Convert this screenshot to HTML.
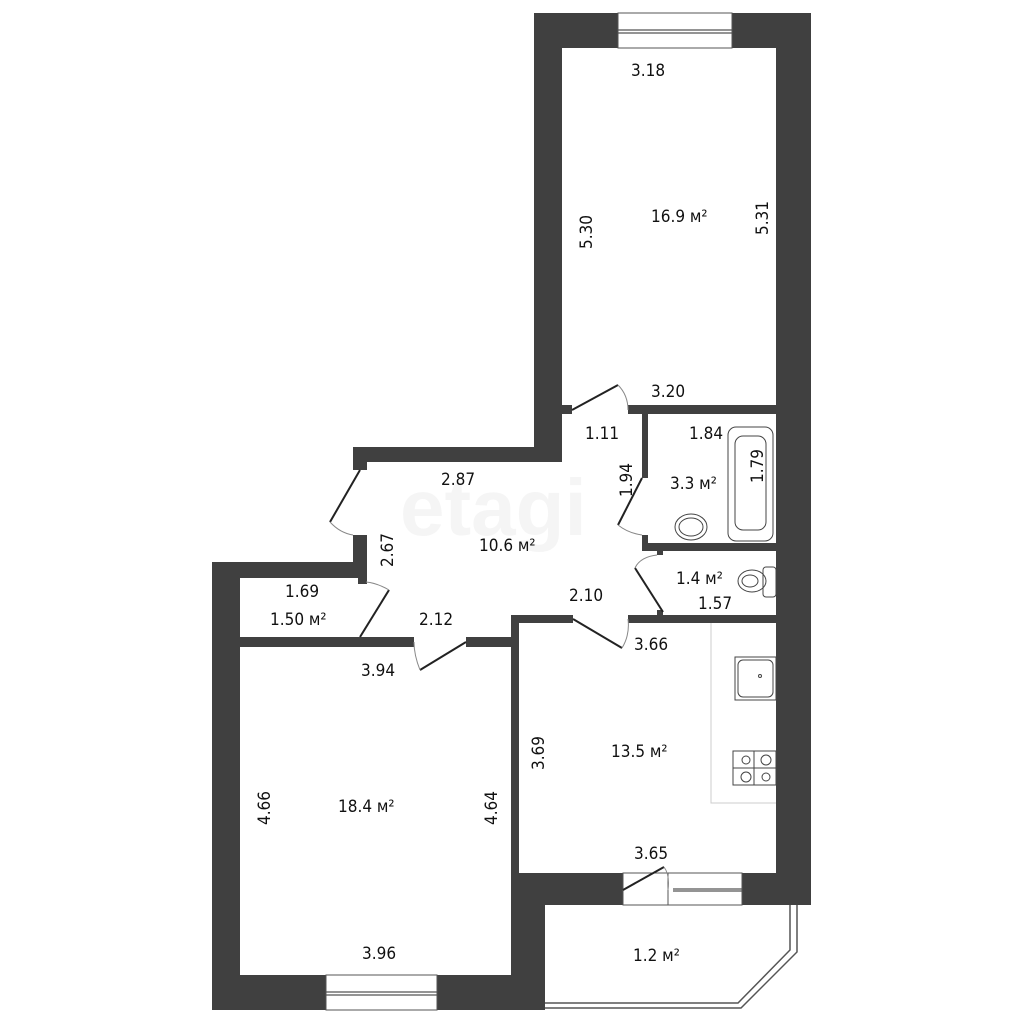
<!DOCTYPE html>
<html><head><meta charset="utf-8"><style>
html,body{margin:0;padding:0;background:#fff;}
svg{display:block;}
text{font-family:"DejaVu Sans Condensed","Liberation Sans Narrow","Liberation Sans",sans-serif;font-size:17px;fill:#111;}
</style></head><body>
<svg width="1024" height="1024" viewBox="0 0 1024 1024" xmlns="http://www.w3.org/2000/svg">
<rect width="1024" height="1024" fill="#fff"/>
<text x="400" y="535" style="font-size:80px;fill:#f5f5f5;font-weight:bold;font-family:'Liberation Sans',sans-serif">etagi</text>
<g fill="#404040">
<rect x="534" y="13" width="276" height="35"/>
<rect x="534" y="13" width="28" height="449"/>
<rect x="776" y="13" width="35" height="892"/>
<rect x="562" y="405" width="10" height="9"/>
<rect x="628" y="405" width="148" height="9"/>
<rect x="353" y="447" width="209" height="15"/>
<rect x="353" y="447" width="14" height="23"/>
<rect x="353" y="535" width="14" height="43"/>
<rect x="642" y="405" width="6" height="73"/>
<rect x="642" y="535" width="6" height="16"/>
<rect x="642" y="543" width="134" height="8"/>
<rect x="657" y="543" width="6" height="12"/>
<rect x="657" y="610" width="6" height="13"/>
<rect x="511" y="615" width="62" height="8"/>
<rect x="628" y="615" width="148" height="8"/>
<rect x="511" y="615" width="8" height="260"/>
<rect x="212" y="562" width="155" height="16"/>
<rect x="212" y="562" width="28" height="448"/>
<rect x="358" y="578" width="9" height="6"/>
<rect x="240" y="637" width="174" height="10"/>
<rect x="466" y="637" width="53" height="10"/>
<rect x="212" y="975" width="333" height="35"/>
<rect x="511" y="873" width="34" height="137"/>
<rect x="511" y="873" width="112" height="32"/>
<rect x="742" y="873" width="69" height="32"/>
</g>
<g fill="#fff" stroke="#555" stroke-width="1">
<rect x="618" y="13" width="114" height="35"/>
<rect x="326" y="975" width="111" height="35"/>
<rect x="668" y="873" width="74" height="32"/>
</g>
<g stroke="#555" stroke-width="1.2">
<line x1="618" y1="30" x2="732" y2="30"/><line x1="618" y1="33" x2="732" y2="33"/>
<line x1="326" y1="992" x2="437" y2="992"/><line x1="326" y1="995" x2="437" y2="995"/>
<line x1="673" y1="889" x2="742" y2="889"/><line x1="673" y1="891" x2="742" y2="891"/>
</g>
<g fill="none" stroke="#555" stroke-width="1.5">
<polyline points="545,1003 738,1003 790,950 790,905"/>
<polyline points="545,1008 741,1008 797,952 797,905"/>
<rect x="623" y="873" width="45" height="32" stroke-width="1"/>
</g>
<g fill="none" stroke="#222" stroke-width="2">
<line x1="572" y1="410" x2="618" y2="385"/>
<line x1="360" y1="470" x2="330" y2="522"/>
<line x1="642" y1="478" x2="618" y2="525"/>
<line x1="663" y1="612" x2="635" y2="568"/>
<line x1="573" y1="619" x2="622" y2="648"/>
<line x1="360" y1="637" x2="389" y2="590"/>
<line x1="466" y1="642" x2="420" y2="670"/>
<line x1="623" y1="890" x2="664" y2="867"/>
</g>
<g fill="none" stroke="#888" stroke-width="1">
<path d="M618,385 Q628,395 628,410"/>
<path d="M330,522 Q340,533 353,535"/>
<path d="M618,525 Q628,533 642,535"/>
<path d="M635,568 Q640,557 657,555"/>
<path d="M622,648 Q630,635 628,619"/>
<path d="M389,590 Q377,583 366,582"/>
<path d="M420,670 Q414,655 414,642"/>
<path d="M664,867 Q670,875 668,890"/>
<polyline points="711,623 711,803 776,803" stroke="#ccc"/>
</g>
<g fill="none" stroke="#444" stroke-width="1">
<rect x="728" y="427" width="45" height="114" rx="8"/>
<rect x="735" y="436" width="31" height="94" rx="8"/>
<ellipse cx="691" cy="527" rx="16" ry="13"/><ellipse cx="691" cy="527" rx="12" ry="9"/>
<ellipse cx="752" cy="581" rx="14" ry="11"/><ellipse cx="750" cy="581" rx="8" ry="6"/>
<rect x="763" y="567" width="13" height="30" rx="3"/>
<rect x="735" y="657" width="41" height="43"/><rect x="738" y="660" width="35" height="37" rx="5"/>
<circle cx="760" cy="676" r="1.5"/>
<rect x="733" y="751" width="43" height="34"/><line x1="754" y1="751" x2="754" y2="785"/><line x1="733" y1="768" x2="776" y2="768"/>
<circle cx="746" cy="760" r="4"/><circle cx="766" cy="760" r="5"/><circle cx="746" cy="777" r="5"/><circle cx="766" cy="777" r="4"/>
</g>
<text x="631" y="76">3.18</text>
<text x="651" y="222">16.9 м²</text>
<text x="592" y="232" transform="rotate(-90 592 232)" text-anchor="middle">5.30</text>
<text x="768" y="218" transform="rotate(-90 768 218)" text-anchor="middle">5.31</text>
<text x="651" y="397">3.20</text>
<text x="585" y="439">1.11</text>
<text x="689" y="439">1.84</text>
<text x="441" y="485">2.87</text>
<text x="632" y="480" transform="rotate(-90 632 480)" text-anchor="middle">1.94</text>
<text x="670" y="489">3.3 м²</text>
<text x="763" y="466" transform="rotate(-90 763 466)" text-anchor="middle">1.79</text>
<text x="479" y="551">10.6 м²</text>
<text x="393" y="550" transform="rotate(-90 393 550)" text-anchor="middle">2.67</text>
<text x="676" y="584">1.4 м²</text>
<text x="698" y="609">1.57</text>
<text x="569" y="601">2.10</text>
<text x="285" y="597">1.69</text>
<text x="270" y="625">1.50 м²</text>
<text x="419" y="625">2.12</text>
<text x="634" y="650">3.66</text>
<text x="361" y="676">3.94</text>
<text x="611" y="757">13.5 м²</text>
<text x="544" y="753" transform="rotate(-90 544 753)" text-anchor="middle">3.69</text>
<text x="338" y="812">18.4 м²</text>
<text x="270" y="808" transform="rotate(-90 270 808)" text-anchor="middle">4.66</text>
<text x="497" y="808" transform="rotate(-90 497 808)" text-anchor="middle">4.64</text>
<text x="634" y="859">3.65</text>
<text x="633" y="961">1.2 м²</text>
<text x="362" y="959">3.96</text>
</svg>
</body></html>
